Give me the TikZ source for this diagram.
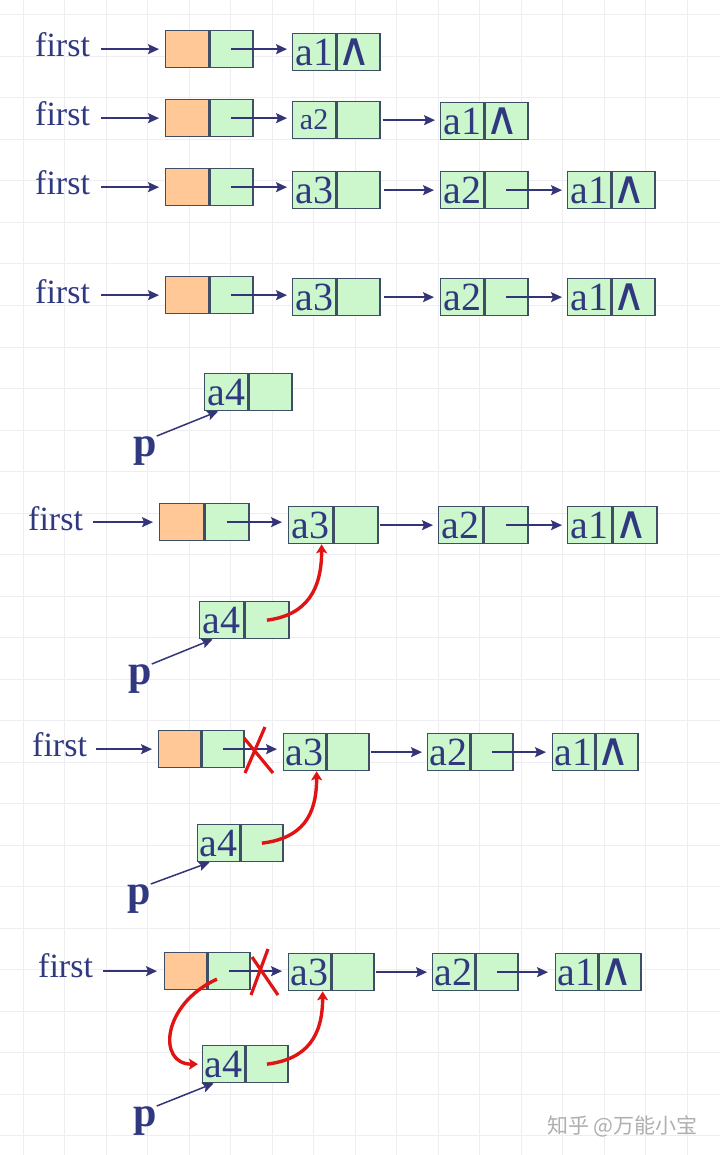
\documentclass[tikz,border=0pt]{standalone}
\usepackage{fontspec}
\setmainfont{Liberation Serif}
\newfontfamily\cjk{Noto Sans CJK SC}
\newfontfamily\symf{DejaVu Sans}
\usetikzlibrary{arrows.meta,calc}
\definecolor{txt}{RGB}{48,56,128}
\definecolor{arr}{RGB}{52,52,120}
\definecolor{bord}{RGB}{62,78,100}
\definecolor{gfill}{RGB}{204,247,204}
\definecolor{ofill}{RGB}{255,200,150}
\definecolor{xred}{RGB}{225,20,20}
\definecolor{gridc}{RGB}{238,238,242}
\definecolor{wm}{RGB}{175,175,175}
\newcommand{\cw}{43}
\newcommand{\lnode}[5]{%
  \node[dcell,anchor=north west] (#1d) at (#2,#3) {#4};
  \node[dcell,anchor=north west] (#1p) at (#1d.north east) {#5};}
\newcommand{\hnode}[3]{%
  \node[ocell,anchor=north west] (#1o) at (#2,#3) {};
  \node[dcell,anchor=north west] (#1p) at (#1o.north east) {};}
\newcommand{\nullsym}{\kern-8pt\raisebox{-2pt}{\symf\fontsize{46}{46}\selectfont ∧}}
\begin{document}
\begin{tikzpicture}[x=1pt,y=-1pt,
  cell/.style={draw=bord,line width=1.3pt,minimum width=\cw pt,minimum height=37pt,inner sep=0pt,text=txt,font=\fontsize{40}{40}\selectfont},
  dcell/.style={cell,fill=gfill},
  ocell/.style={cell,fill=ofill},
  firstlbl/.style={text=txt,font=\fontsize{34}{34}\selectfont,inner sep=0pt,anchor=base west},
  plbl/.style={text=txt,font=\bfseries\fontsize{42}{42}\selectfont,inner sep=0pt,anchor=base west},
  ptr/.style={draw=arr,line width=1.5pt,-{Stealth[length=11pt,width=10pt,inset=2pt]}},
  redarr/.style={draw=xred,line width=3.4pt,-{Stealth[length=9pt,width=11pt,inset=2pt]}},
  redx/.style={draw=xred,line width=3.2pt},
]
\fill[white] (0,0) rectangle (720,1155);
\useasboundingbox (0,0) rectangle (720,1155);
\foreach \gx in {23,64.5,...,720} \draw[gridc,line width=1pt] (\gx,0) -- (\gx,1155);
\foreach \gy in {15,56.5,...,1155} \draw[gridc,line width=1pt] (0,\gy) -- (720,\gy);

% ---------- Panel 1
\renewcommand{\cw}{43}
\node[firstlbl] (f1) at (35,57) {first};
\hnode{h1}{165}{30}
\lnode{s1a1}{292}{33}{a1}{\nullsym}
\draw[ptr,shorten <=11pt,shorten >=6pt] (h1o.west -| f1.east) -- (h1o.west);
\draw[ptr,shorten >=5pt] (h1p.center) -- (h1p.center -| s1a1d.west);

% ---------- Panel 2
\node[firstlbl] (f2) at (35,126) {first};
\hnode{h2}{165}{99}
\lnode{s2a2}{292}{101}{\fontsize{30}{30}\selectfont a2}{}
\lnode{s2a1}{440}{102}{a1}{\nullsym}
\draw[ptr,shorten <=11pt,shorten >=6pt] (h2o.west -| f2.east) -- (h2o.west);
\draw[ptr,shorten >=5pt] (h2p.center) -- (h2p.center -| s2a2d.west);
\draw[ptr,shorten <=2pt,shorten >=5pt] (s2a2p.east) -- (s2a2p.east -| s2a1d.west);

% ---------- Panel 3
\node[firstlbl] (f3) at (35,195) {first};
\hnode{h3}{165}{168}
\lnode{s3a3}{292}{171}{a3}{}
\lnode{s3a2}{440}{171}{a2}{}
\lnode{s3a1}{567}{171}{a1}{\nullsym}
\draw[ptr,shorten <=11pt,shorten >=6pt] (h3o.west -| f3.east) -- (h3o.west);
\draw[ptr,shorten >=5pt] (h3p.center) -- (h3p.center -| s3a3d.west);
\draw[ptr,shorten <=3pt,shorten >=6pt] (s3a3p.east) -- (s3a3p.east -| s3a2d.west);
\draw[ptr,shorten >=5pt] (s3a2p.center) -- (s3a2p.center -| s3a1d.west);

% ---------- Panel 4
\node[firstlbl] (f4) at (35,303) {first};
\hnode{h4}{165}{276}
\lnode{s4a3}{292}{278}{a3}{}
\lnode{s4a2}{440}{278}{a2}{}
\lnode{s4a1}{567}{278}{a1}{\nullsym}
\draw[ptr,shorten <=11pt,shorten >=6pt] (h4o.west -| f4.east) -- (h4o.west);
\draw[ptr,shorten >=5pt] (h4p.center) -- (h4p.center -| s4a3d.west);
\draw[ptr,shorten <=3pt,shorten >=6pt] (s4a3p.east) -- (s4a3p.east -| s4a2d.west);
\draw[ptr,shorten >=5pt] (s4a2p.center) -- (s4a2p.center -| s4a1d.west);
\lnode{s4a4}{204}{373}{a4}{}
\node[plbl] (pp4) at (133,456) {p};
\draw[ptr] (pp4.north east) -- ([xshift=-8pt]s4a4d.south);

% ---------- Panel 5
\renewcommand{\cw}{44}
\node[firstlbl] (f5) at (28,530) {first};
\hnode{h5}{159}{503}
\lnode{s5a3}{288}{506}{a3}{}
\lnode{s5a2}{438}{506}{a2}{}
\lnode{s5a1}{567}{506}{a1}{\nullsym}
\draw[ptr,shorten <=10pt,shorten >=6pt] (h5o.west -| f5.east) -- (h5o.west);
\draw[ptr,shorten >=6pt] (h5p.center) -- (h5p.center -| s5a3d.west);
\draw[ptr,shorten <=1pt,shorten >=5pt] (s5a3p.east) -- (s5a3p.east -| s5a2d.west);
\draw[ptr,shorten >=5pt] (s5a2p.center) -- (s5a2p.center -| s5a1d.west);
\lnode{s5a4}{199}{601}{a4}{}
\node[plbl] (pp5) at (128,684) {p};
\draw[ptr] (pp5.north east) -- ([xshift=-9pt]s5a4d.south);
\draw[redarr] (s5a4p.center) .. controls +(40,-5) and +(0,45) .. ([xshift=11pt]s5a3d.south);

% ---------- Panel 6
\renewcommand{\cw}{42}
\node[firstlbl] (f6) at (32,756) {first};
\hnode{h6}{158}{730}
\lnode{s6a3}{283}{733}{a3}{}
\lnode{s6a2}{427}{733}{a2}{}
\lnode{s6a1}{552}{733}{a1}{\nullsym}
\draw[ptr,shorten <=9pt,shorten >=6pt] (h6o.west -| f6.east) -- (h6o.west);
\draw[ptr,shorten >=6pt] (h6p.center) -- (h6p.center -| s6a3d.west);
\draw[ptr,shorten <=1pt,shorten >=5pt] (s6a3p.east) -- (s6a3p.east -| s6a2d.west);
\draw[ptr,shorten >=6pt] (s6a2p.center) -- (s6a2p.center -| s6a1d.west);
\draw[redx] (244,738) -- (273,773);
\draw[redx] (265,727) -- (245,773);
\lnode{s6a4}{197}{824}{a4}{}
\node[plbl] (pp6) at (127,904) {p};
\draw[ptr] (pp6.north east) -- ([xshift=-9pt]s6a4d.south);
\draw[redarr] (s6a4p.center) .. controls +(40,-5) and +(0,45) .. ([xshift=12pt]s6a3d.south);

% ---------- Panel 7
\node[firstlbl] (f7) at (38,977) {first};
\hnode{h7}{164}{952}
\lnode{s7a3}{288}{953}{a3}{}
\lnode{s7a2}{432}{953}{a2}{}
\lnode{s7a1}{555}{953}{a1}{\nullsym}
\draw[ptr,shorten <=10pt,shorten >=7pt] (h7o.west -| f7.east) -- (h7o.west);
\draw[ptr,shorten >=6pt] (h7p.center) -- (h7p.center -| s7a3d.west);
\draw[ptr,shorten <=1pt,shorten >=5pt] (s7a3p.east) -- (s7a3p.east -| s7a2d.west);
\draw[ptr,shorten >=7pt] (s7a2p.center) -- (s7a2p.center -| s7a1d.west);
\draw[redx] (252,957) -- (278,995);
\draw[redx] (268,949) -- (251,995);
\lnode{s7a4}{202}{1045}{a4}{}
\node[plbl] (pp7) at (133,1126) {p};
\draw[ptr] (pp7.north east) -- ([xshift=-10pt]s7a4d.south);
\draw[redarr] (s7a4p.center) .. controls +(40,-5) and +(0,45) .. ([xshift=13pt]s7a3d.south);
\draw[redarr,shorten >=4pt] ([xshift=-12pt,yshift=-8pt]h7p.center) .. controls +(-55,25) and +(-45,0) .. (s7a4d.west);

% watermark
\node[anchor=west,text=wm,inner sep=0pt,font=\cjk\fontsize{21}{21}\selectfont] (wmark) at (547,1126) {知乎 @万能小宝};
\end{tikzpicture}
\end{document}
